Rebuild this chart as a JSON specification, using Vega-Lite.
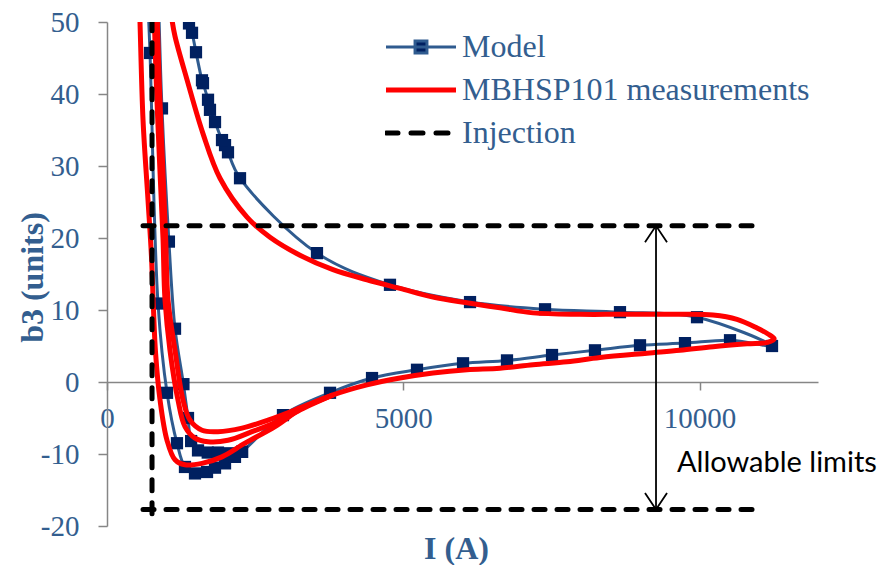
{
  "$schema": "https://vega.github.io/schema/vega-lite/v6.json",
  "width": 711,
  "height": 504,
  "autosize": {"type": "none"},
  "padding": {"left": 107, "top": 22, "right": 76, "bottom": 39},
  "background": "white",
  "config": {
    "view": {"stroke": null},
    "font": "Liberation Serif",
    "axis": {
      "labelFont": "Liberation Serif",
      "labelFontSize": 29,
      "labelColor": "#335E8F",
      "titleFont": "Liberation Serif",
      "titleFontSize": 32,
      "titleFontWeight": "bold",
      "titleColor": "#335E8F",
      "domainColor": "#868686",
      "domainWidth": 1.5,
      "tickColor": "#868686",
      "tickWidth": 1.5,
      "grid": false,
      "labelFlush": false,
      "labelOverlap": false
    }
  },
  "datasets": {
    "model": [
      {"b": "1", "I": 690, "b3": 53},
      {"b": "1", "I": 726, "b3": 45.7},
      {"b": "1", "I": 861, "b3": 10.9},
      {"b": "1", "I": 1013, "b3": -1.5},
      {"b": "1", "I": 1181, "b3": -8.5},
      {"b": "1", "I": 1316, "b3": -11.8},
      {"b": "1", "I": 1485, "b3": -12.7},
      {"b": "1", "I": 1688, "b3": -12.5},
      {"b": "1", "I": 1823, "b3": -11.9},
      {"b": "1", "I": 1992, "b3": -11.3},
      {"b": "1", "I": 2160, "b3": -10.4},
      {"b": "1", "I": 2279, "b3": -9.7},
      {"b": "1", "I": 2970, "b3": -4.6},
      {"b": "1", "I": 3764, "b3": -1.5},
      {"b": "1", "I": 4473, "b3": 0.55},
      {"b": "1", "I": 5232, "b3": 1.7},
      {"b": "1", "I": 6009, "b3": 2.6},
      {"b": "1", "I": 6751, "b3": 3.0},
      {"b": "1", "I": 7511, "b3": 3.75},
      {"b": "1", "I": 8236, "b3": 4.4},
      {"b": "1", "I": 8996, "b3": 5.1},
      {"b": "1", "I": 9755, "b3": 5.4},
      {"b": "1", "I": 10515, "b3": 5.8},
      {"b": "1", "I": 11224, "b3": 5.0},
      {"b": "1", "I": 9958, "b3": 9.0},
      {"b": "1", "I": 8658, "b3": 9.7},
      {"b": "1", "I": 7393, "b3": 10.1},
      {"b": "1", "I": 6127, "b3": 11.1},
      {"b": "1", "I": 4776, "b3": 13.5},
      {"b": "1", "I": 3544, "b3": 17.9},
      {"b": "1", "I": 2245, "b3": 28.3},
      {"b": "1", "I": 2042, "b3": 31.9},
      {"b": "1", "I": 1992, "b3": 32.9},
      {"b": "1", "I": 1941, "b3": 33.6},
      {"b": "1", "I": 1823, "b3": 36.1},
      {"b": "1", "I": 1738, "b3": 37.8},
      {"b": "1", "I": 1705, "b3": 39.2},
      {"b": "1", "I": 1620, "b3": 41.5},
      {"b": "1", "I": 1603, "b3": 41.9},
      {"b": "1", "I": 1502, "b3": 45.8},
      {"b": "1", "I": 1435, "b3": 48.5},
      {"b": "1", "I": 1384, "b3": 49.8},
      {"b": "1", "I": 1330, "b3": 53},
      {"b": "2", "I": 870, "b3": 53},
      {"b": "2", "I": 928, "b3": 38.0},
      {"b": "2", "I": 1045, "b3": 19.5},
      {"b": "2", "I": 1148, "b3": 7.4},
      {"b": "2", "I": 1290, "b3": -0.3},
      {"b": "2", "I": 1367, "b3": -5.0},
      {"b": "2", "I": 1420, "b3": -8.2},
      {"b": "2", "I": 1536, "b3": -9.5},
      {"b": "2", "I": 1700, "b3": -9.8},
      {"b": "2", "I": 1873, "b3": -9.8},
      {"b": "2", "I": 2050, "b3": -9.9},
      {"b": "2", "I": 2279, "b3": -9.7}
    ],
    "meas": [
      {"b": "A", "I": 545, "b3": 53},
      {"b": "A", "I": 557, "b3": 50},
      {"b": "A", "I": 608, "b3": 36.4},
      {"b": "A", "I": 692, "b3": 25.3},
      {"b": "A", "I": 750, "b3": 17.5},
      {"b": "A", "I": 785, "b3": 10},
      {"b": "A", "I": 820, "b3": 4},
      {"b": "A", "I": 895, "b3": -2.5},
      {"b": "A", "I": 1013, "b3": -8.1},
      {"b": "A", "I": 1148, "b3": -10.8},
      {"b": "A", "I": 1316, "b3": -11.5},
      {"b": "A", "I": 1603, "b3": -11.3},
      {"b": "A", "I": 1941, "b3": -10.4},
      {"b": "A", "I": 2329, "b3": -8.5},
      {"b": "A", "I": 2836, "b3": -6.2},
      {"b": "A", "I": 3300, "b3": -3.6},
      {"b": "A", "I": 3814, "b3": -1.8},
      {"b": "A", "I": 4388, "b3": -0.4},
      {"b": "A", "I": 4945, "b3": 0.55},
      {"b": "A", "I": 5502, "b3": 1.25},
      {"b": "A", "I": 6076, "b3": 1.7},
      {"b": "A", "I": 6633, "b3": 1.9},
      {"b": "A", "I": 7190, "b3": 2.4},
      {"b": "A", "I": 7764, "b3": 2.8},
      {"b": "A", "I": 8321, "b3": 3.4},
      {"b": "A", "I": 9114, "b3": 4.0},
      {"b": "A", "I": 9671, "b3": 4.4},
      {"b": "A", "I": 10228, "b3": 4.9},
      {"b": "A", "I": 10802, "b3": 5.3},
      {"b": "A", "I": 11150, "b3": 5.5},
      {"b": "A", "I": 11260, "b3": 6.0},
      {"b": "A", "I": 11150, "b3": 6.7},
      {"b": "A", "I": 10971, "b3": 7.5},
      {"b": "A", "I": 10633, "b3": 8.7},
      {"b": "A", "I": 10228, "b3": 9.3},
      {"b": "A", "I": 9671, "b3": 9.4},
      {"b": "A", "I": 8658, "b3": 9.4},
      {"b": "A", "I": 7983, "b3": 9.4},
      {"b": "A", "I": 7190, "b3": 9.6},
      {"b": "A", "I": 6633, "b3": 10.3},
      {"b": "A", "I": 6076, "b3": 11.0},
      {"b": "A", "I": 5502, "b3": 11.8},
      {"b": "A", "I": 4945, "b3": 13.0},
      {"b": "A", "I": 4388, "b3": 14.2},
      {"b": "A", "I": 3814, "b3": 15.6},
      {"b": "A", "I": 3257, "b3": 17.6},
      {"b": "A", "I": 2751, "b3": 20.1},
      {"b": "A", "I": 2363, "b3": 22.9},
      {"b": "A", "I": 1907, "b3": 28.3},
      {"b": "A", "I": 1620, "b3": 34.5},
      {"b": "A", "I": 1350, "b3": 42},
      {"b": "A", "I": 1148, "b3": 48},
      {"b": "A", "I": 1097, "b3": 50.3},
      {"b": "A", "I": 1060, "b3": 53},
      {"b": "B", "I": 790, "b3": 53},
      {"b": "B", "I": 830, "b3": 42},
      {"b": "B", "I": 890, "b3": 30},
      {"b": "B", "I": 945, "b3": 20},
      {"b": "B", "I": 979, "b3": 11.4},
      {"b": "B", "I": 1063, "b3": 4.4},
      {"b": "B", "I": 1198, "b3": -2.5},
      {"b": "B", "I": 1316, "b3": -6.2},
      {"b": "B", "I": 1485, "b3": -7.8},
      {"b": "B", "I": 1705, "b3": -8.3},
      {"b": "B", "I": 2042, "b3": -8.1},
      {"b": "B", "I": 2447, "b3": -6.9},
      {"b": "B", "I": 2886, "b3": -5.5},
      {"b": "B", "I": 3300, "b3": -3.7},
      {"b": "B", "I": 3814, "b3": -1.8},
      {"b": "C", "I": 840, "b3": 53},
      {"b": "C", "I": 880, "b3": 42},
      {"b": "C", "I": 940, "b3": 30},
      {"b": "C", "I": 990, "b3": 20},
      {"b": "C", "I": 1030, "b3": 11.4},
      {"b": "C", "I": 1148, "b3": 4.4},
      {"b": "C", "I": 1283, "b3": -2.5},
      {"b": "C", "I": 1401, "b3": -5.3},
      {"b": "C", "I": 1603, "b3": -6.7},
      {"b": "C", "I": 1873, "b3": -6.9},
      {"b": "C", "I": 2279, "b3": -6.4},
      {"b": "C", "I": 2717, "b3": -5.3},
      {"b": "C", "I": 3291, "b3": -3.5},
      {"b": "C", "I": 3814, "b3": -1.8}
    ],
    "inj": [
      {"seg": "v", "I": 760, "b3": 50.3},
      {"seg": "v", "I": 760, "b3": -19.7},
      {"seg": "h1", "I": 608, "b3": 21.7},
      {"seg": "h1", "I": 11021, "b3": 21.7},
      {"seg": "h2", "I": 608, "b3": -17.7},
      {"seg": "h2", "I": 11021, "b3": -17.7}
    ],
    "arrow": [
      {"end": "top", "I": 9266, "b3": 21.7},
      {"end": "bottom", "I": 9266, "b3": -17.7}
    ],
    "note": [
      {"I": 9620, "b3": -11.25, "label": "Allowable limits"}
    ]
  },
  "encoding": {
    "x": {
      "field": "I",
      "type": "quantitative",
      "scale": {"domain": [0, 12000], "nice": false, "zero": false},
      "axis": {
        "values": [0, 5000, 10000],
        "labelExpr": "'' + datum.value",
        "offset": -144,
        "tickSize": 8,
        "labelPadding": 14,
        "title": "I (A)",
        "titleX": 349,
        "titleY": 166,
        "titleBaseline": "middle",
        "titleAlign": "center"
      }
    },
    "y": {
      "field": "b3",
      "type": "quantitative",
      "scale": {"domain": [-20, 50], "nice": false, "zero": false},
      "axis": {
        "values": [-20, -10, 0, 10, 20, 30, 40, 50],
        "labelExpr": "'' + datum.value",
        "tickSize": 9,
        "labelPadding": 19,
        "title": "b3 (units)",
        "titleX": -75,
        "titleY": 255,
        "titleAngle": -90,
        "titleBaseline": "middle",
        "titleAlign": "center"
      }
    }
  },
  "layer": [
    {
      "data": {"name": "model"},
      "mark": {"type": "line", "interpolate": "catmull-rom", "strokeWidth": 3, "clip": true},
      "encoding": {
        "color": {
          "datum": "Model",
          "type": "nominal",
          "scale": {"domain": ["Model", "MBHSP101 measurements", "Injection"], "range": ["#2F5B8F", "#FF0000", "#000000"]},
          "legend": {
            "orient": "none",
            "legendX": 278,
            "legendY": 10,
            "title": null,
            "padding": 0,
            "labelFont": "Liberation Serif",
            "labelFontSize": 32,
            "labelColor": "#335E8F",
            "labelLimit": 600,
            "labelOffset": 25,
            "symbolType": "stroke",
            "symbolSize": 4900,
            "symbolOffset": 20,
            "symbolStrokeWidth": 3,
            "clipHeight": 30,
            "rowPadding": 11,
            "encode": {
              "symbols": {
                "update": {
                  "shape": {"signal": "datum.value === 'Model' ? 'M-1,0H1M-0.17,-0.17H0.17V0.17H-0.17Z' : 'stroke'"},
                  "fill": {"signal": "datum.value === 'Model' ? '#002060' : 'transparent'"},
                  "strokeWidth": {"signal": "datum.value === 'Model' ? 3 : 5"},
                  "strokeDash": {"signal": "datum.value === 'Injection' ? [12, 13] : [1, 0]"},
                  "strokeCap": {"signal": "datum.value === 'Injection' ? 'round' : 'butt'"}
                }
              }
            }
          }
        },
        "detail": {"field": "b"},
        "order": {"value": null}
      }
    },
    {
      "data": {"name": "model"},
      "mark": {"type": "point", "shape": "square", "filled": true, "color": "#002060", "opacity": 1, "size": 150, "clip": true}
    },
    {
      "data": {"name": "meas"},
      "mark": {"type": "line", "interpolate": "catmull-rom", "strokeWidth": 5, "clip": true},
      "encoding": {
        "color": {"datum": "MBHSP101 measurements", "type": "nominal"},
        "detail": {"field": "b"},
        "order": {"value": null}
      }
    },
    {
      "data": {"name": "inj"},
      "mark": {"type": "line", "strokeWidth": 5, "strokeDash": [11, 12], "strokeCap": "round", "clip": true},
      "encoding": {
        "color": {"datum": "Injection", "type": "nominal"},
        "detail": {"field": "seg"},
        "order": {"value": null}
      }
    },
    {
      "data": {"name": "arrow"},
      "mark": {"type": "line", "color": "#000000", "strokeWidth": 1.8},
      "encoding": {"order": {"value": null}}
    },
    {
      "data": {"name": "arrow"},
      "mark": {"type": "point", "filled": false, "color": "#000000", "strokeWidth": 1.8, "size": 484, "opacity": 1},
      "encoding": {
        "shape": {
          "field": "end",
          "type": "nominal",
          "scale": {"domain": ["top", "bottom"], "range": ["M-1,1.5L0,0L1,1.5", "M-1,-1.5L0,0L1,-1.5"]},
          "legend": null
        }
      }
    },
    {
      "data": {"name": "note"},
      "mark": {"type": "text", "align": "left", "baseline": "middle", "font": "Lato", "fontSize": 29, "color": "#000000"},
      "encoding": {"text": {"field": "label"}}
    }
  ]
}
